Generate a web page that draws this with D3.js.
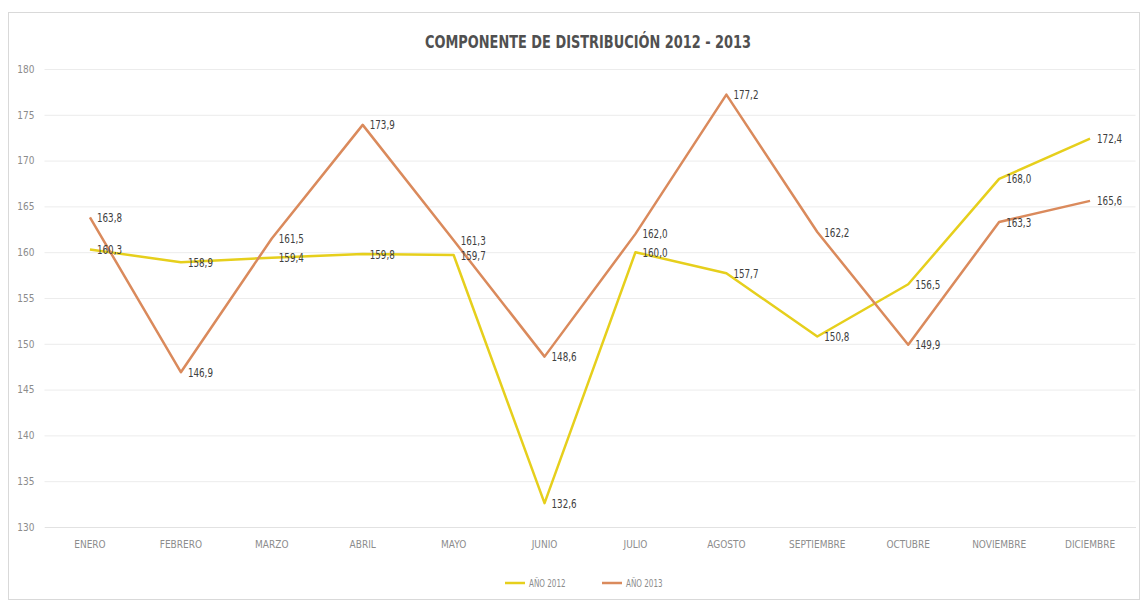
<!DOCTYPE html>
<html><head><meta charset="utf-8">
<script src="https://cdn.jsdelivr.net/npm/d3@7"></script>
<style>
html,body{margin:0;padding:0;background:#fff;}
svg{display:block;}
</style></head>
<body>
<svg id="chart" width="1146" height="601"></svg>
<script>
const title = "COMPONENTE DE DISTRIBUCIÓN 2012 - 2013";
const months = ["ENERO","FEBRERO","MARZO","ABRIL","MAYO","JUNIO","JULIO","AGOSTO","SEPTIEMBRE","OCTUBRE","NOVIEMBRE","DICIEMBRE"];
const values2012 = [160.3,158.9,159.4,159.8,159.7,132.6,160.0,157.7,150.8,156.5,168.0,172.4];
const values2013 = [163.8,146.9,161.5,173.9,161.3,148.6,162.0,177.2,162.2,149.9,163.3,165.6];
const seriesNames = ["AÑO 2012","AÑO 2013"];
const yTicks = [130,135,140,145,150,155,160,165,170,175,180];

const colors = ["#E6CF1C","#DA8A5C"];
const font = "'DejaVu Sans Condensed','Liberation Sans',sans-serif";

const svg = d3.select("#chart");
const m = {left:44.5, right:1135.5, top:69, bottom:527};

svg.append("rect").attr("x",8.5).attr("y",12.5).attr("width",1131).attr("height",587)
  .attr("fill","#fff").attr("stroke","#d9d9d9").attr("stroke-width",1);

const x = d3.scaleBand().domain(months).range([m.left,m.right]);
const y = d3.scaleLinear().domain([130,180]).range([m.bottom,m.top]);
const xc = d => x(d)+x.bandwidth()/2;

// grid
const yAxis = d3.axisLeft(y).tickValues(yTicks).tickSize(-(m.right-m.left)).tickFormat(d3.format("d")).tickPadding(10);
const gy = svg.append("g").attr("transform",`translate(${m.left},0)`).call(yAxis);
gy.select(".domain").remove();
gy.selectAll(".tick line").attr("stroke","#ececec").attr("stroke-width",1);
gy.selectAll(".tick text").attr("fill","#8c8c8c").style("font-family",font).style("font-size","10px");

const xAxis = d3.axisBottom(x).tickSize(0).tickPadding(14);
const gx = svg.append("g").attr("transform",`translate(0,${m.bottom})`).call(xAxis);
gx.select(".domain").attr("stroke","#e2e2e2");
gx.selectAll(".tick text").attr("fill","#8c8c8c").style("font-family",font).style("font-size","10px");

// title
svg.append("text").attr("x",588).attr("y",48).attr("text-anchor","middle")
  .attr("fill","#505050").style("font-family",font).style("font-size","18px").style("font-weight","bold")
  .attr("textLength",326).attr("lengthAdjust","spacingAndGlyphs")
  .text(title);

const series = [values2012, values2013];
const line = d3.line().x((d,i)=>xc(months[i])).y(d=>y(d));

series.forEach((vals,si)=>{
  svg.append("path").datum(vals).attr("d",line).attr("fill","none")
    .attr("stroke",colors[si]).attr("stroke-width",2.5).attr("stroke-linejoin","round");
});
series.forEach((vals,si)=>{
  svg.append("g").selectAll("text").data(vals).join("text")
    .attr("transform",(d,i)=>`translate(${xc(months[i])+7},${y(d)}) scale(0.75,1)`)
    .attr("dy","0.35em")
    .attr("fill","#404040")
    .style("font-family",font).style("font-size","13px")
    .text(d=>d3.format(".1f")(d).replace(".",","));
});

// legend
const legX = [505,602];
seriesNames.forEach((n,i)=>{
  const g = svg.append("g").attr("transform",`translate(${legX[i]},583)`);
  g.append("line").attr("x1",0).attr("x2",20).attr("y1",0).attr("y2",0)
    .attr("stroke",colors[i]).attr("stroke-width",2.5);
  g.append("text").attr("transform","translate(24,0) scale(0.8,1)").attr("dy","0.35em").attr("fill","#8c8c8c")
    .style("font-family",font).style("font-size","10px").text(n);
});
</script>
</body></html>
